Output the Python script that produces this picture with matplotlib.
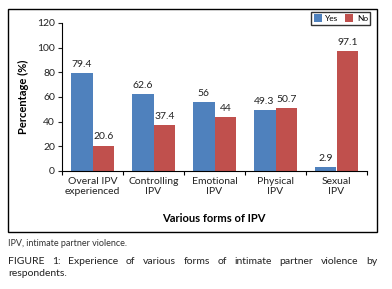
import matplotlib
matplotlib.use("Agg")
import matplotlib.pyplot as plt
import numpy as np
from matplotlib.patches import Rectangle

plt.rcParams["font.family"] = ["Lato", "DejaVu Sans"]

categories = ["Overal IPV\nexperienced", "Controlling\nIPV", "Emotional\nIPV",
              "Physical\nIPV", "Sexual\nIPV"]
yes_vals = [79.4, 62.6, 56, 49.3, 2.9]
no_vals = [20.6, 37.4, 44, 50.7, 97.1]
yes_labels = ["79.4", "62.6", "56", "49.3", "2.9"]
no_labels = ["20.6", "37.4", "44", "50.7", "97.1"]

BLUE = "#4F81BD"
RED = "#C0504D"
W, H = 392, 289

fig = plt.figure(figsize=(W / 100, H / 100), dpi=100)
fig.patch.set_facecolor("white")

# outer chart frame
fig.add_artist(Rectangle((8 / W, 1 - 232 / H), 369 / W, 223 / H,
                         transform=fig.transFigure, fill=False,
                         edgecolor="black", linewidth=1.0))

ax = fig.add_axes([62 / W, 1 - 171 / H, 305 / W, 148 / H])
x = np.arange(len(categories))
bw = 0.36
b1 = ax.bar(x - bw / 2, yes_vals, bw, color=BLUE, label="Yes", zorder=2)
b2 = ax.bar(x + bw / 2, no_vals, bw, color=RED, label="No", zorder=2)

for rect, lab in zip(b1, yes_labels):
    ax.annotate(lab, (rect.get_x() + rect.get_width() / 2, rect.get_height()),
                xytext=(0, 3), textcoords="offset points", ha="center",
                va="bottom", fontsize=7.5, color="#222222")
for rect, lab in zip(b2, no_labels):
    ax.annotate(lab, (rect.get_x() + rect.get_width() / 2, rect.get_height()),
                xytext=(0, 3), textcoords="offset points", ha="center",
                va="bottom", fontsize=7.5, color="#222222")

ax.set_xlim(-0.5, len(categories) - 0.5)
ax.set_ylim(0, 120)
ax.set_yticks(range(0, 121, 20))
ax.tick_params(axis="y", labelsize=7.5, length=3, width=0.8, pad=2,
               colors="#222222")
ax.set_xticks(x)
ax.set_xticklabels(categories, fontsize=7.5, color="#222222", linespacing=1.25)
ax.tick_params(axis="x", length=0, pad=4)
# category dividers on the x axis
ax.set_xticks(np.arange(-0.5, len(categories), 1), minor=True)
ax.tick_params(axis="x", which="minor", length=3, width=0.8)

for s in ["top", "right"]:
    ax.spines[s].set_visible(False)
for s in ["left", "bottom"]:
    ax.spines[s].set_linewidth(0.8)

ax.set_ylabel("Percentage (%)", fontsize=8, fontweight="bold", labelpad=6)
fig.text(214 / W, 1 - 219 / H, "Various forms of IPV", fontsize=8,
         fontweight="bold", ha="center", va="center")

leg = fig.legend(loc="upper left", bbox_to_anchor=(311 / W, 1 - 12 / H),
                 ncol=2, fontsize=6, frameon=True, fancybox=False,
                 edgecolor="black", handlelength=1.0, handleheight=1.0,
                 handletextpad=0.4, columnspacing=0.8, borderpad=0.3,
                 borderaxespad=0)
leg.get_frame().set_linewidth(1.0)

# caption
fig.text(8 / W, 1 - 244 / H, "IPV, intimate partner violence.", fontsize=6.5,
         color="#333333", ha="left", va="center")


def justified(words, x0, x1, y, **kw):
    fig.canvas.draw()
    r = fig.canvas.get_renderer()
    arts = [fig.text(0, y, w, ha="left", va="center", **kw) for w in words]
    widths = [a.get_window_extent(r).width for a in arts]
    gap = ((x1 - x0) * W - sum(widths)) / (len(words) - 1)
    pos = x0 * W
    for a, w in zip(arts, widths):
        a.set_x(pos / W)
        pos += w + gap


cap = "FIGURE 1: Experience of various forms of intimate partner violence by"
justified(cap.split(" "), 8 / W, 377 / W, 1 - 261 / H, fontsize=7.5,
          color="#222222")
fig.text(8 / W, 1 - 273 / H, "respondents.", fontsize=7.5, color="#222222",
         ha="left", va="center")

fig.savefig("out.png", dpi=100, facecolor="white")
